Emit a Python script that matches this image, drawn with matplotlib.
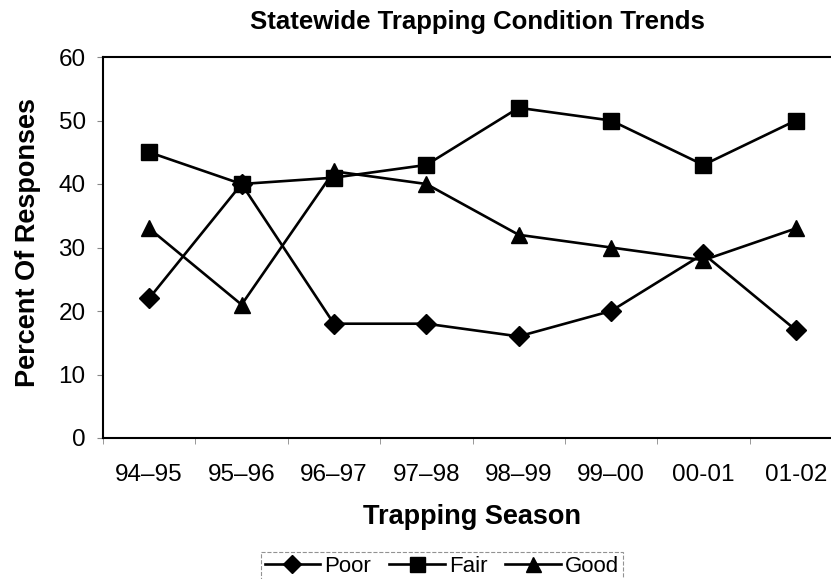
import matplotlib
matplotlib.use("Agg")
import matplotlib.pyplot as plt
from matplotlib.ticker import FixedLocator

plt.rcParams['font.family'] = ['Liberation Sans', 'DejaVu Sans']

seasons = ["94\u201395", "95\u201396", "96\u201397", "97\u201398", "98\u201399", "99\u201300", "00-01", "01-02"]
poor = [22, 40, 18, 18, 16, 20, 29, 17]
fair = [45, 40, 41, 43, 52, 50, 43, 50]
good = [33, 21, 42, 40, 32, 30, 28, 33]

fig = plt.figure(figsize=(8.31, 5.79), dpi=100)
ax = fig.add_axes([103 / 831, 141 / 579, 739 / 831, 381 / 579])

x = list(range(len(seasons)))
ax.plot(x, poor, color="black", lw=1.9, marker="D", ms=10, label="Poor")
ax.plot(x, fair, color="black", lw=1.9, marker="s", ms=12, label="Fair")
ax.plot(x, good, color="black", lw=1.9, marker="^", ms=12, label="Good")

ax.set_xlim(-0.5, len(seasons) - 0.5)
ax.set_ylim(0, 60)
ax.set_yticks(range(0, 61, 10))
ax.set_xticks(x)
ax.set_xticklabels(seasons)
ax.xaxis.set_minor_locator(FixedLocator([i + 0.5 for i in range(-1, len(seasons))]))
ax.tick_params(axis="x", which="major", length=0, pad=19, labelsize=17.5)
ax.tick_params(axis="x", which="minor", length=4, color="#888888", direction="out")
ax.tick_params(axis="y", length=4, color="#888888", labelsize=17.5, pad=8.5)
for lbl in ax.get_xticklabels():
    lbl.set_x(lbl.get_position()[0])

for s in ax.spines.values():
    s.set_linewidth(1.5)

ax.text(0.507, 1.092, "Statewide Trapping Condition Trends", transform=ax.transAxes,
        ha="center", va="center", fontsize=18.5, fontweight="bold")
ax.set_xlabel("Trapping Season", fontsize=19.5, fontweight="bold", va="center")
ax.xaxis.set_label_coords(0.499, -0.207)
ax.set_ylabel("Percent Of Responses", fontsize=19.5, fontweight="bold", va="center")
ax.yaxis.set_label_coords(-0.101, 0.512)

leg = fig.legend(loc="center", bbox_to_anchor=(442 / 831, 1 - 566 / 579), ncol=3,
                 frameon=True, fancybox=False, fontsize=16, handlelength=2.5,
                 columnspacing=0.8, handletextpad=0.2, borderpad=0.15, markerscale=0.9)
leg.get_frame().set_edgecolor("#777777")
leg.get_frame().set_linestyle("--")
leg.get_frame().set_linewidth(0.8)

fig.savefig("out.png", dpi=100)
